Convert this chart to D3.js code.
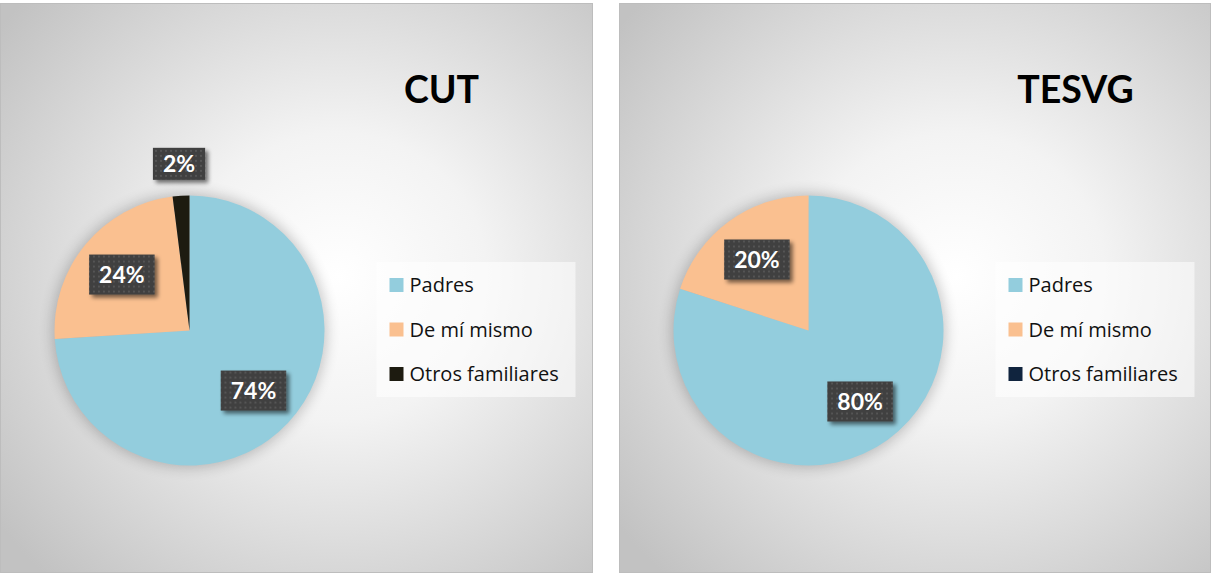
<!DOCTYPE html>
<html>
<head>
<meta charset="utf-8">
<script src="https://cdn.jsdelivr.net/npm/d3@7/dist/d3.min.js"></script>
<style>
  html, body { margin: 0; padding: 0; background: #ffffff; }
  svg { display: block; }
</style>
</head>
<body>
<svg id="chart" width="1212" height="574"></svg>
<script>
// ---- data ----
const categories = ["Padres", "De mí mismo", "Otros familiares"];
const chartTitles = ["CUT", "TESVG"];
const cutValues = [74, 24, 2];
const tesvgValues = [80, 20, 0];
const cutColors = ["#93CDDD", "#FAC090", "#1D1B10"];
const tesvgColors = ["#93CDDD", "#FAC090", "#10243E"];

// ---- layout ----
const panels = [
  { x: 0.5, y: 3.5, w: 592, h: 569, titleX: 441, values: cutValues, colors: cutColors, title: chartTitles[0] },
  { x: 619.5, y: 3.5, w: 591, h: 569, titleX: 456, values: tesvgValues, colors: tesvgColors, title: chartTitles[1] }
];
const R = 135;
const pieCx = 189, pieCy = 327;   // relative to panel
const FONT = "Lato, 'Open Sans', sans-serif";
const LEGEND_FONT = "'Open Sans', Lato, sans-serif";

const svg = d3.select("#chart");
const defs = svg.append("defs");

const grad = defs.append("radialGradient").attr("id", "bg")
  .attr("cx", "57%").attr("cy", "48%").attr("r", "72%");
grad.append("stop").attr("offset", "0%").attr("stop-color", "#ffffff");
grad.append("stop").attr("offset", "35%").attr("stop-color", "#f3f3f3");
grad.append("stop").attr("offset", "100%").attr("stop-color", "#c2c2c2");

const pat = defs.append("pattern").attr("id", "dots")
  .attr("patternUnits", "userSpaceOnUse").attr("width", 5).attr("height", 5);
pat.append("rect").attr("width", 5).attr("height", 5).attr("fill", "#3f3f3f");
pat.append("rect").attr("x", 1).attr("y", 1).attr("width", 2).attr("height", 2).attr("fill", "#555555");

const halo = defs.append("filter").attr("id", "halo")
  .attr("x", "-30%").attr("y", "-30%").attr("width", "160%").attr("height", "160%");
halo.append("feGaussianBlur").attr("stdDeviation", 7);

const sh = defs.append("filter").attr("id", "boxshadow")
  .attr("x", "-30%").attr("y", "-30%").attr("width", "160%").attr("height", "160%");
sh.append("feGaussianBlur").attr("in", "SourceAlpha").attr("stdDeviation", 2).attr("result", "b");
sh.append("feOffset").attr("in", "b").attr("dx", 3).attr("dy", 3).attr("result", "o");
sh.append("feComponentTransfer").attr("in", "o").attr("result", "o2")
  .append("feFuncA").attr("type", "linear").attr("slope", 0.55);
const mg = sh.append("feMerge");
mg.append("feMergeNode").attr("in", "o2");
mg.append("feMergeNode").attr("in", "SourceGraphic");

const pie = d3.pie().sort(null).value(d => d);
const arc = d3.arc().innerRadius(0).outerRadius(R);
const labelArcIn = d3.arc().innerRadius(R * 0.65).outerRadius(R * 0.65);
const labelArcOut = d3.arc().innerRadius(R + 32).outerRadius(R + 32);

panels.forEach((p) => {
  const g = svg.append("g").attr("transform", `translate(${p.x},${p.y})`);
  g.append("rect").attr("width", p.w).attr("height", p.h)
    .attr("fill", "url(#bg)").attr("stroke", "#bdbdbd").attr("stroke-width", 1);

  // title
  g.append("text").attr("x", p.titleX).attr("y", 99.5)
    .attr("text-anchor", "middle").attr("font-family", FONT)
    .attr("font-weight", 700).attr("font-size", 37.5).attr("fill", "#000")
    .text(p.title);

  const pg = g.append("g").attr("transform", `translate(${pieCx},${pieCy})`);
  pg.append("circle").attr("r", R + 2).attr("fill", "#000").attr("opacity", 0.22)
    .attr("filter", "url(#halo)");

  const arcs = pie(p.values);
  pg.selectAll("path.slice").data(arcs).join("path")
    .attr("class", "slice")
    .attr("d", arc)
    .attr("fill", (d, i) => p.colors[i]);

  const tot = d3.sum(p.values);
  const labs = pg.selectAll("g.lab").data(arcs.filter(d => d.data > 0)).join("g")
    .attr("class", "lab")
    .attr("transform", d => {
      const c = (d.data / tot < 0.05 ? labelArcOut : labelArcIn).centroid(d);
      return `translate(${c[0]},${c[1]})`;
    });
  labs.each(function(d) {
    const sel = d3.select(this);
    const txt = Math.round(d.data / tot * 100) + "%";
    const small = d.data / tot < 0.05;
    const t = sel.append("text").attr("text-anchor", "middle").attr("dy", "0.36em")
      .attr("font-family", FONT).attr("font-weight", 700).attr("font-size", 23)
      .attr("fill", "#fff").text(txt);
    const w = t.node().getComputedTextLength() + 20;
    const h = small ? 32 : 40;
    sel.insert("rect", "text").attr("x", -w / 2).attr("y", -h / 2)
      .attr("width", w).attr("height", h).attr("fill", "url(#dots)")
      .attr("filter", "url(#boxshadow)");
  });

  // legend
  const lg = g.append("g").attr("transform", `translate(376,${262 - p.y})`);
  lg.append("rect").attr("width", 199).attr("height", 135)
    .attr("fill", "#ffffff").attr("opacity", 0.55);
  const items = lg.selectAll("g.item").data(categories).join("g")
    .attr("class", "item")
    .attr("transform", (d, i) => `translate(13,${23 + i * 44.5})`);
  items.append("rect").attr("x", 0).attr("y", -7).attr("width", 14).attr("height", 14)
    .attr("fill", (d, i) => p.colors[i]);
  items.append("text").attr("x", 20).attr("dy", "0.35em")
    .attr("font-family", LEGEND_FONT).attr("font-size", 20).attr("fill", "#111")
    .text(d => d);
});
</script>
</body>
</html>
